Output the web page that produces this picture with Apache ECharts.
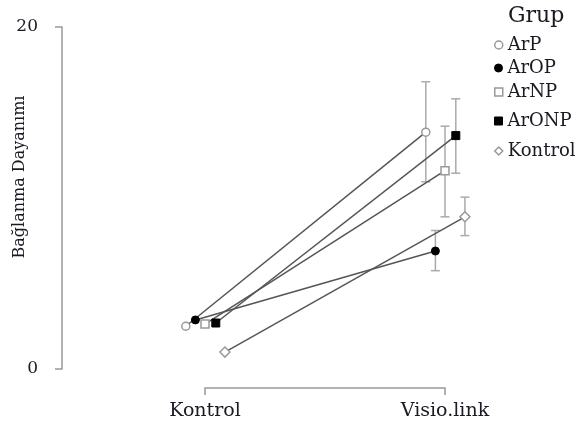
<!DOCTYPE html>
<html>
<head>
<meta charset="utf-8">
<script src="https://cdn.jsdelivr.net/npm/echarts@6/dist/echarts.min.js"></script>
<style>html,body{margin:0;padding:0;background:#fff}#c{width:586px;height:432px}</style>
</head>
<body>
<div id="c"></div>
<script>
var categories = ['Kontrol', 'Visio.link'];
var groups = ['ArP', 'ArOP', 'ArNP', 'ArONP', 'Kontrol'];
var yTicks = [0, 20];
var yTitle = 'Bağlanma Dayanımı';
var legendTitle = 'Grup';
var meanArP = [2.5, 13.85];
var meanArOP = [2.87, 6.9];
var meanArNP = [2.63, 11.6];
var meanArONP = [2.69, 13.65];
var meanKontrol = [0.99, 8.9];
var errLow = [[null, 10.95], [null, 5.75], [null, 8.9], [null, 11.45], [null, 7.8]];
var errHigh = [[null, 16.8], [null, 8.1], [null, 14.2], [null, 15.8], [null, 10.05]];
var means = [meanArP, meanArOP, meanArNP, meanArONP, meanKontrol];

var FONT = 'DejaVu Serif';
var TXT = '#1a1a22';
var dodge = [-0.08, -0.04, 0, 0.045, 0.083];
var symbols = ['circle', 'circle', 'rect', 'rect', 'diamond'];
var filled = [false, true, false, true, false];
var sizes = [8, 8, 8, 8, 10];
var legendTops = [31, 54, 78, 107, 137];

function styleFor(i) {
  return filled[i] ? { color: '#000', borderColor: '#000', borderWidth: 1 }
                   : { color: '#fff', borderColor: '#999', borderWidth: 1.5 };
}

var series = [];
groups.forEach(function (g, i) {
  var pts = means[i].map(function (v, k) { return [k + dodge[i], v]; });
  series.push({
    name: g, type: 'line', data: pts, symbol: symbols[i], symbolSize: sizes[i],
    showSymbol: true, clip: false, z: 5, xAxisIndex: 0, yAxisIndex: 0,
    lineStyle: { color: '#555', width: 1.5 },
    itemStyle: styleFor(i), emphasis: { disabled: true }
  });
  var eb = [];
  for (var k = 0; k < categories.length; k++) {
    if (errLow[i][k] != null) eb.push([k + dodge[i], errLow[i][k], errHigh[i][k]]);
  }
  series.push({
    type: 'custom', z: 3, clip: false, silent: true, data: eb, xAxisIndex: 0, yAxisIndex: 0,
    renderItem: function (params, api) {
      var x = api.value(0);
      var lo = api.coord([x, api.value(1)]);
      var hi = api.coord([x, api.value(2)]);
      var w = 4.5;
      var st = { stroke: '#aaa', lineWidth: 1.5 };
      return { type: 'group', children: [
        { type: 'line', shape: { x1: lo[0], y1: lo[1], x2: hi[0], y2: hi[1] }, style: st },
        { type: 'line', shape: { x1: lo[0] - w, y1: lo[1], x2: lo[0] + w, y2: lo[1] }, style: st },
        { type: 'line', shape: { x1: hi[0] - w, y1: hi[1], x2: hi[0] + w, y2: hi[1] }, style: st }
      ]};
    }
  });
});

var legends = groups.map(function (g, i) {
  return {
    data: [{ name: g, icon: symbols[i], itemStyle: styleFor(i) }],
    left: 489, top: legendTops[i], itemWidth: 8, itemHeight: 8, itemGap: 5,
    selectedMode: false,
    textStyle: { fontFamily: FONT, fontSize: 18, color: TXT }
  };
});

var axLine = { show: true, onZero: false, lineStyle: { color: '#999', width: 1.5 } };
var axTick = { show: true, length: 7, lineStyle: { color: '#999', width: 1.5 } };

var chart = echarts.init(document.getElementById('c'), null, { renderer: 'canvas' });
chart.setOption({
  animation: false,
  backgroundColor: '#fff',
  title: { text: legendTitle, left: 503, top: 0, textStyle: { fontFamily: FONT, fontSize: 22, fontWeight: 'normal', color: TXT } },
  legend: legends,
  graphic: [{
    type: 'text', x: 20, y: 177, rotation: Math.PI / 2,
    style: { text: yTitle, fontFamily: FONT, fontSize: 16, fill: TXT, align: 'center', verticalAlign: 'middle' }
  }],
  grid: [
    { left: 175, right: 111, top: 27, bottom: 63, containLabel: false, outerBoundsMode: 'none' },
    { left: 205, right: 141, top: 27, bottom: 63, containLabel: false, outerBoundsMode: 'none' }
  ],
  xAxis: [
    { gridIndex: 0, type: 'value', min: -0.125, max: 1.125, show: false },
    {
      gridIndex: 1, type: 'value', min: 0, max: 1, interval: 1, offset: 19,
      axisLine: axLine, axisTick: axTick, splitLine: { show: false },
      axisLabel: { margin: 14, fontFamily: FONT, fontSize: 19, color: TXT,
        formatter: function (v) { return categories[Math.round(v)]; } }
    }
  ],
  yAxis: [
    {
      gridIndex: 0, type: 'value', min: yTicks[0], max: yTicks[1], interval: 20, offset: 113,
      axisLine: axLine, axisTick: axTick, splitLine: { show: false },
      axisLabel: { margin: 24, fontFamily: FONT, fontSize: 17, color: TXT }
    },
    { gridIndex: 1, type: 'value', min: 0, max: 20, show: false }
  ],
  series: series
});
</script>
</body>
</html>
